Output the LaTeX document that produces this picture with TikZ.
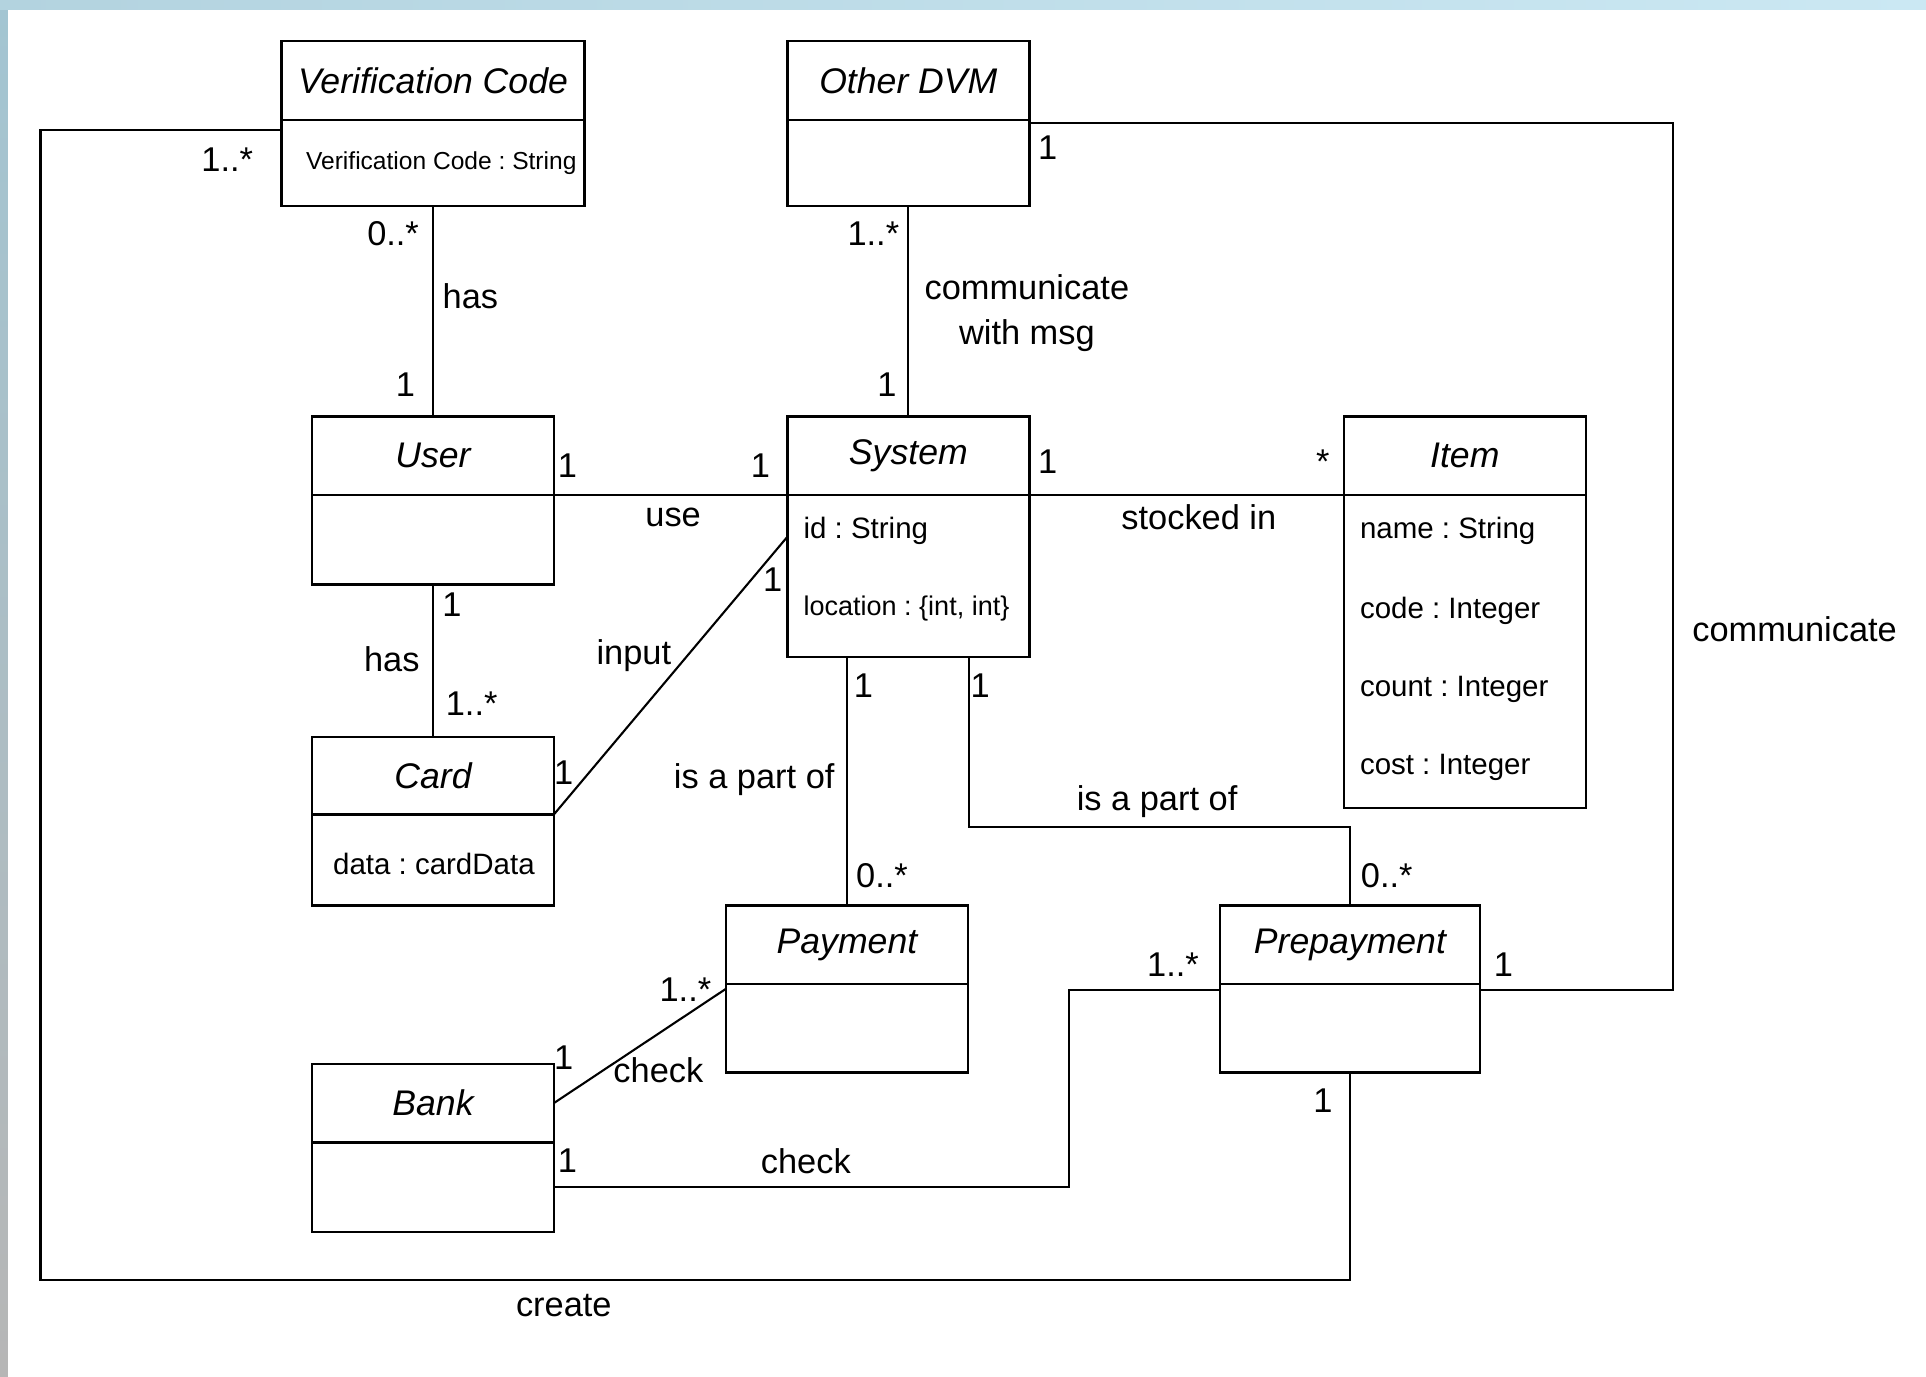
\documentclass[tikz,border=0pt]{standalone}
\usepackage{fontspec}
\setmainfont{Liberation Sans}
\usepackage{xcolor}
\usepackage{tikz}
\usetikzlibrary{positioning, calc}

\definecolor{bandblue}{HTML}{CBE8F3}
\definecolor{stripblue}{HTML}{A3C5D2}
\definecolor{stripgray}{HTML}{B6B6B6}
\frenchspacing

\begin{document}
\begin{tikzpicture}[
    x=1pt, y=-1pt,
    classtitle/.style={rectangle, draw, line width=2pt, minimum width=197pt, minimum height=64pt, inner sep=0pt, outer sep=0pt, font=\fontsize{29}{34}\selectfont\itshape},
    classbody/.style={rectangle, draw, line width=2pt, minimum width=197pt, inner sep=0pt, outer sep=0pt},
    attrtext/.style={anchor=west, inner sep=0pt, font=\fontsize{24}{28}\selectfont},
    multlabel/.style={inner sep=0pt, font=\fontsize{28}{33}\selectfont},
    assoc/.style={line width=1.7pt}
]
    % Window frame
    \useasboundingbox (0,0) rectangle (1568,1121);
    \fill[white] (0,0) rectangle (1568,1121);
    \shade[top color=stripblue, bottom color=stripgray] (0,0) rectangle (6.5,1121);
    \shade[left color=stripblue!60!bandblue, right color=bandblue] (0,0) rectangle (1568,7.5);

    % Classes
    \node[classtitle, minimum width=247pt] (vc) at (352.5,65.5) {Verification Code};
    \node[classbody, minimum width=247pt, minimum height=70pt, below=0pt of vc] (vc-body) {};
    \node[attrtext, font=\fontsize{20}{24}\selectfont] (vc-a1) at ($(vc-body.north west)+(20,35)$) {Verification Code : String};

    \node[classtitle] (odvm) at (739.5,65.5) {Other DVM};
    \node[classbody, minimum height=70pt, below=0pt of odvm] (odvm-body) {};

    \node[classtitle] (user) at (352.5,371) {User};
    \node[classbody, minimum height=73pt, below=0pt of user] (user-body) {};

    \node[classtitle] (sys) at (739.5,371) {System};
    \node[classbody, minimum height=132pt, below=0pt of sys] (sys-body) {};
    \node[attrtext] (sys-a1) at ($(sys-body.north west)+(13,29)$) {id : String};
    \node[attrtext, font=\fontsize{22}{26}\selectfont] (sys-a2) at ($(sys-body.north west)+(13,92)$) {location : \{int, int\}};

    \node[classtitle] (item) at (1192.5,371) {Item};
    \node[classbody, minimum height=255pt, below=0pt of item] (item-body) {};
    \node[attrtext] (item-a1) at ($(item-body.north west)+(13,29)$) {name : String};
    \node[attrtext] (item-a2) at ($(item-body.north west)+(13,94)$) {code : Integer};
    \node[attrtext] (item-a3) at ($(item-body.north west)+(13,158)$) {count : Integer};
    \node[attrtext] (item-a4) at ($(item-body.north west)+(13,222)$) {cost : Integer};

    \node[classtitle, minimum height=63pt] (card) at (352.5,631.5) {Card};
    \node[classbody, minimum height=74pt, below=0pt of card] (card-body) {};
    \node[attrtext] (card-a1) at ($(card-body.north west)+(17,40)$) {data : cardData};

    \node[classtitle] (pay) at (689.5,769) {Payment};
    \node[classbody, minimum height=72pt, below=0pt of pay] (pay-body) {};

    \node[classtitle, minimum width=212pt] (pre) at (1099,769) {Prepayment};
    \node[classbody, minimum width=212pt, minimum height=72pt, below=0pt of pre] (pre-body) {};

    \node[classtitle] (bank) at (352.5,898) {Bank};
    \node[classbody, minimum height=73pt, below=0pt of bank] (bank-body) {};

    % Bends
    \coordinate (bend1) at (789,673);
    \coordinate (bend2) at (870,806);
    \coordinate (bend3) at (1362,806);
    \coordinate (bend4) at (33,1042);

    % Associations
    \draw[assoc] (vc-body.south) -- (user.north);
    \draw[assoc] (odvm-body.south) -- (sys.north);
    \draw[assoc] (user.south east) -- (sys.south west);
    \draw[assoc] (sys.south east) -- (item.south west);
    \draw[assoc] (user-body.south) -- (card.north);
    \draw[assoc] (card.south east) -- ([yshift=-34pt]sys-body.north west);
    \draw[assoc] (pay.north |- sys-body.south) -- (pay.north);
    \draw[assoc] (bend1 |- sys-body.south) -- (bend1) -| (pre.north);
    \draw[assoc] (bank.east) -- ([yshift=-4pt]pay.south west);
    \draw[assoc] (bank-body.east) -| (bend2) -- ([yshift=-5pt]pre.south west);
    \draw[assoc] ([yshift=-3pt]odvm.south east) -| (bend3) -- ([yshift=-5pt]pre.south east);
    \draw[assoc] ([yshift=-8pt]vc.south west) -| (bend4) -| (pre-body.south);

    % Labels
    \node[multlabel] (l1) at (185,130) {1..*};
    \node[multlabel] (l2) at (320,190) {0..*};
    \node[multlabel] (l3) at (383,241) {has};
    \node[multlabel] (l4) at (330,313) {1};
    \node[multlabel] (l5) at (711,190) {1..*};
    \node[multlabel, align=center, font=\fontsize{28}{37}\selectfont] (l6) at (836,255) {communicate\\with msg};
    \node[multlabel] (l7) at (722,313) {1};
    \node[multlabel] (l8) at (853,120) {1};
    \node[multlabel] (l9) at (462,379) {1};
    \node[multlabel] (l10) at (619,379) {1};
    \node[multlabel] (l11) at (548,421) {use};
    \node[multlabel] (l12) at (853,376) {1};
    \node[multlabel] (l13) at (1077,376) {*};
    \node[multlabel] (l14) at (976,421) {stocked in};
    \node[multlabel] (l15) at (368,492) {1};
    \node[multlabel] (l16) at (319,537) {has};
    \node[multlabel] (l17) at (384,573) {1..*};
    \node[multlabel] (l18) at (516,534) {input};
    \node[multlabel] (l19) at (629,472) {1};
    \node[multlabel] (l20) at (459,629) {1};
    \node[multlabel] (l21) at (703,558) {1};
    \node[multlabel] (l22) at (798,558) {1};
    \node[multlabel] (l23) at (614,635) {is a part of};
    \node[multlabel] (l24) at (942,653) {is a part of};
    \node[multlabel] (l25) at (718,713) {0..*};
    \node[multlabel] (l26) at (1129,713) {0..*};
    \node[multlabel] (l27) at (558,806) {1..*};
    \node[multlabel] (l28) at (459,861) {1};
    \node[multlabel] (l29) at (536,871) {check};
    \node[multlabel] (l30) at (462,945) {1};
    \node[multlabel] (l31) at (656,945) {check};
    \node[multlabel] (l32) at (955,785) {1..*};
    \node[multlabel] (l33) at (1224,785) {1};
    \node[multlabel] (l34) at (1077,896) {1};
    \node[multlabel] (l35) at (1461,512) {communicate};
    \node[multlabel] (l36) at (459,1063) {create};
\end{tikzpicture}
\end{document}
